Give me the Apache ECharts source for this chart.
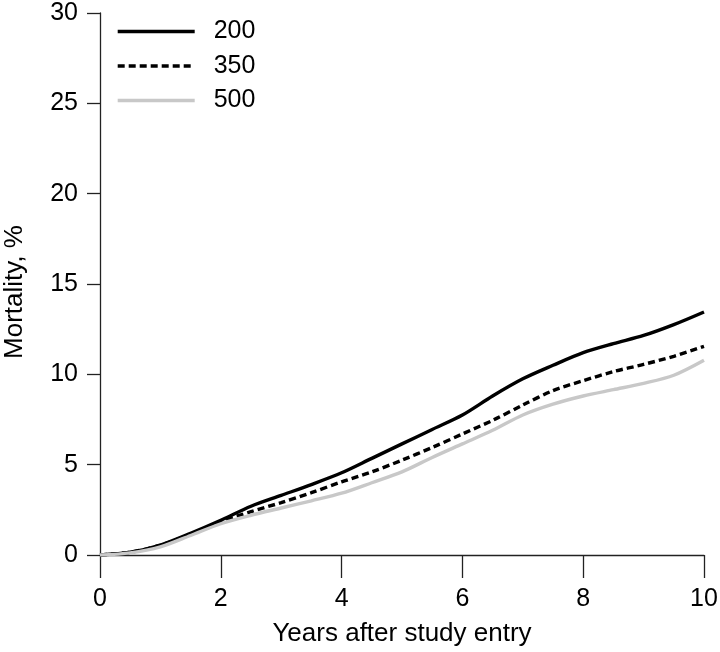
<!DOCTYPE html>
<html>
<head>
<meta charset="utf-8">
<script src="https://cdn.jsdelivr.net/npm/echarts@6/dist/echarts.min.js"></script>
<style>html,body{margin:0;padding:0;background:#fff;}#c{width:720px;height:652px;}</style>
</head>
<body>
<div id="c"></div>
<script>
const years = [0,0.5,1,1.5,2,2.5,3,3.5,4,4.5,5,5.5,6,6.5,7,7.5,8,8.5,9,9.5,10];
const cd200 = [0,0.15,0.55,1.2,1.92,2.7,3.3,3.9,4.55,5.35,6.15,6.95,7.75,8.8,9.75,10.5,11.2,11.7,12.15,12.75,13.45];
const cd350 = [0,0.15,0.55,1.15,1.85,2.4,2.9,3.45,4.05,4.6,5.25,5.95,6.7,7.45,8.3,9.1,9.65,10.15,10.55,11.0,11.55];
const cd500 = [0,0.12,0.45,1.08,1.73,2.2,2.6,3.0,3.42,4.0,4.6,5.4,6.15,6.9,7.75,8.35,8.8,9.15,9.5,9.95,10.78];
const seriesNames = ['200','350','500'];
const xTicks = [0,2,4,6,8,10];
const yTicks = [0,5,10,15,20,25,30];

const font = 'Liberation Sans, Arial, Helvetica, sans-serif';
const pair = (ys) => years.map((x,i)=>[x, ys[i]]);
const chart = echarts.init(document.getElementById('c'));
chart.setOption({
  animation:false,
  backgroundColor:'#fff',
  grid:{left:100, right:16, top:13, bottom:97, containLabel:false, outerBoundsMode:'none'},
  legend:{
    orient:'vertical', left:116, top:19, padding:0,
    itemWidth:77, itemHeight:14, itemGap:9.5,
    data:seriesNames,
    itemStyle:{opacity:0},
    lineStyle:{width:3.4},
    textStyle:{fontFamily:font, fontSize:25, color:'#000', padding:[0,0,0,14]}
  },
  xAxis:{
    type:'value', min:0, max:10, interval:2,
    axisLine:{show:true, lineStyle:{color:'#222', width:1.3}},
    axisTick:{show:true, length:23, lineStyle:{color:'#222', width:1.3}},
    axisLabel:{margin:32, fontSize:25, color:'#000', fontFamily:font, formatter:(v)=>xTicks.includes(v)?String(v):''},
    splitLine:{show:false},
    name:'Years after study entry', nameLocation:'middle', nameGap:66,
    nameTextStyle:{fontSize:26, color:'#000', fontFamily:font}
  },
  yAxis:{
    type:'value', min:0, max:30, interval:5,
    axisLine:{show:true, lineStyle:{color:'#222', width:1.3}},
    axisTick:{show:true, length:13, lineStyle:{color:'#222', width:1.3}},
    axisLabel:{margin:22, fontSize:25, color:'#000', fontFamily:font, formatter:(v)=>yTicks.includes(v)?String(v):''},
    splitLine:{show:false},
    name:'Mortality, %', nameLocation:'middle', nameGap:72,
    nameTextStyle:{fontSize:26, color:'#000', fontFamily:font, padding:[0,16,0,0]}
  },
  series:[
    {name:'200', type:'line', data:pair(cd200), showSymbol:false, symbol:'none', smooth:0.3,
      lineStyle:{color:'#000', width:3.4}, itemStyle:{color:'#000'}},
    {name:'350', type:'line', data:pair(cd350), showSymbol:false, symbol:'none', smooth:0.3,
      lineStyle:{color:'#000', width:3.4, type:[7,4]}, itemStyle:{color:'#000'}},
    {name:'500', type:'line', data:pair(cd500), showSymbol:false, symbol:'none', smooth:0.3,
      lineStyle:{color:'#c8c8c8', width:3.4}, itemStyle:{color:'#c8c8c8'}}
  ]
});
</script>
</body>
</html>
